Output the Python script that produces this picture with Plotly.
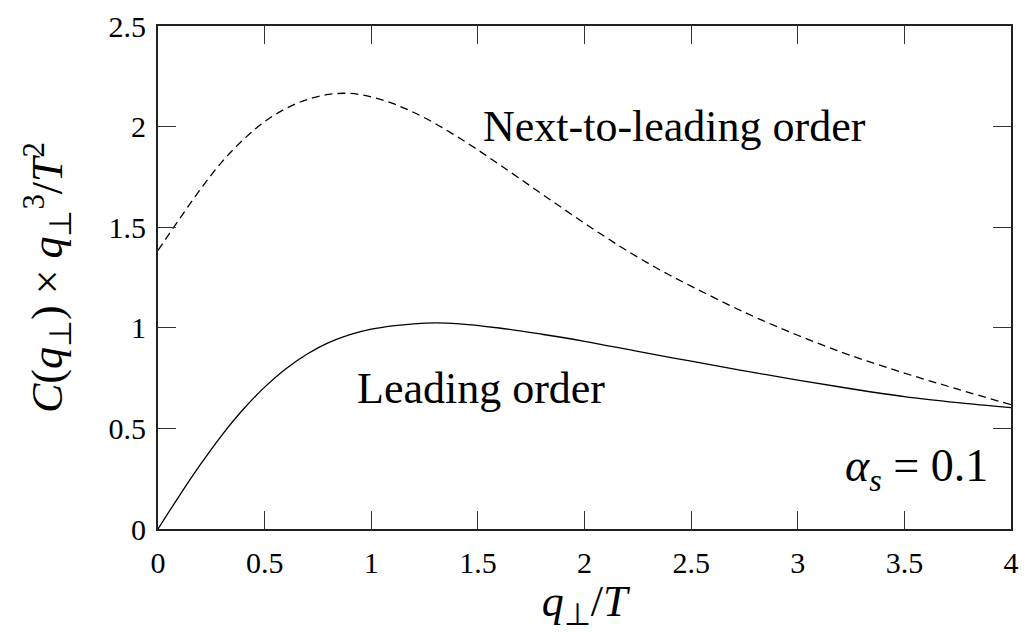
import plotly.graph_objects as go

# Leading order curve
lo_x = [0, 0.1, 0.2, 0.3, 0.4, 0.5, 0.6, 0.7, 0.8, 0.9, 1.0, 1.1, 1.2, 1.3, 1.4, 1.6, 1.8,
        2.0, 2.25, 2.5, 2.75, 3.0, 3.25, 3.5, 3.75, 4.0]
lo_y = [0, 0.165, 0.322, 0.467, 0.595, 0.705, 0.797, 0.870, 0.926, 0.966, 0.993, 1.010, 1.020,
        1.024, 1.021, 0.999, 0.968, 0.933, 0.883, 0.834, 0.786, 0.740, 0.697, 0.658, 0.628, 0.603]

# Next-to-leading order curve
nlo_x = [0, 0.1, 0.2, 0.3, 0.4, 0.5, 0.6, 0.7, 0.8, 0.9, 1.0, 1.1, 1.2, 1.3, 1.4, 1.5, 1.6,
         1.7, 1.8, 1.9, 2.0, 2.1, 2.2, 2.35, 2.5, 2.75, 3.0, 3.25, 3.5, 3.75, 4.0]
nlo_y = [1.385, 1.54, 1.69, 1.825, 1.935, 2.025, 2.09, 2.135, 2.16, 2.165, 2.148, 2.115, 2.07,
         2.015, 1.952, 1.884, 1.812, 1.739, 1.665, 1.592, 1.52, 1.45, 1.383, 1.29, 1.207,
         1.077, 0.963, 0.862, 0.775, 0.695, 0.618]

x_ticks = [0, 0.5, 1, 1.5, 2, 2.5, 3, 3.5, 4]
x_tick_labels = ["0", "0.5", "1", "1.5", "2", "2.5", "3", "3.5", "4"]
y_ticks = [0, 0.5, 1, 1.5, 2, 2.5]
y_tick_labels = ["0", "0.5", "1", "1.5", "2", "2.5"]

FONT = "Liberation Serif, Times New Roman, serif"

fig = go.Figure()
fig.add_trace(go.Scatter(x=nlo_x, y=nlo_y, mode="lines",
                         line=dict(color="black", width=1.3, dash="8px,5px", shape="spline", smoothing=1.0),
                         showlegend=False))
fig.add_trace(go.Scatter(x=lo_x, y=lo_y, mode="lines",
                         line=dict(color="black", width=1.3, shape="spline", smoothing=1.0),
                         showlegend=False))

fig.add_annotation(x=2.42, y=2.0, text="Next-to-leading order", showarrow=False,
                   font=dict(family=FONT, size=44, color="black"), xanchor="center", yanchor="middle")
fig.add_annotation(x=1.515, y=0.7, text="Leading order", showarrow=False,
                   font=dict(family=FONT, size=44, color="black"), xanchor="center", yanchor="middle")
fig.add_annotation(x=3.9, y=0.3, text="<i>α<sub>s</sub></i> = 0.1", showarrow=False,
                   font=dict(family=FONT, size=46, color="black"), xanchor="right", yanchor="middle")

axis_common = dict(showgrid=False, zeroline=False, showline=True, linecolor="#222", linewidth=2,
                   mirror="ticks", ticks="inside", ticklen=18, tickwidth=1.3, tickcolor="#333",
                   tickfont=dict(family=FONT, size=30, color="black"))

fig.update_xaxes(range=[0, 4], tickvals=x_ticks, ticktext=x_tick_labels, ticklabelstandoff=6,
                 title=dict(text="<i>q</i><sub>⊥</sub>/<i>T</i>", font=dict(family=FONT, size=44, color="black"), standoff=4),
                 **axis_common)
fig.update_yaxes(range=[0, 2.5], tickvals=y_ticks, ticktext=y_tick_labels, ticklabelstandoff=4,
                 title=dict(text="<i>C</i>(<i>q</i><sub>⊥</sub>) × <i>q</i><sub>⊥</sub><sup>3</sup>/<i>T</i><sup>2</sup>",
                            font=dict(family=FONT, size=44, color="black"), standoff=32),
                 **axis_common)

fig.update_layout(width=1028, height=632, margin=dict(l=158, r=9, t=25, b=103),
                  plot_bgcolor="white", paper_bgcolor="white")

fig.write_html("out.html")
